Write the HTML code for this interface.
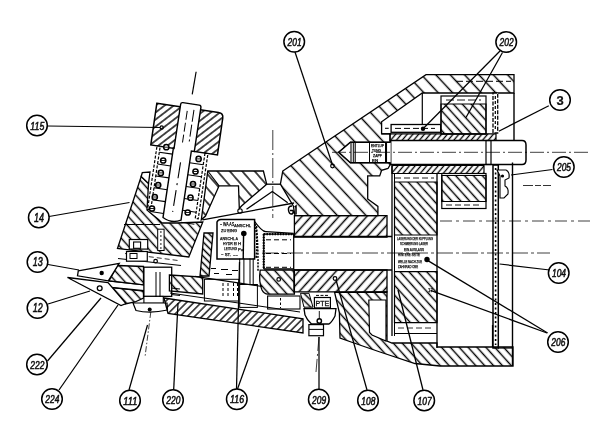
<!DOCTYPE html><html><head><meta charset="utf-8"><style>html,body{margin:0;padding:0;background:#fff;width:600px;height:433px;overflow:hidden}svg{display:block}text{font-family:"Liberation Sans",sans-serif;font-style:italic;font-weight:normal;fill:#111;stroke:#111;stroke-width:0.35}</style></head><body><svg width="600" height="433" viewBox="0 0 600 433"><defs><pattern id="hL" width="40" height="10.5" patternUnits="userSpaceOnUse" patternTransform="rotate(47)"><line x1="0" y1="5.25" x2="40" y2="5.25" stroke="#000" stroke-width="1.6"/></pattern><pattern id="hT" width="40" height="9.8" patternUnits="userSpaceOnUse" patternTransform="rotate(48)"><line x1="0" y1="4.9" x2="40" y2="4.9" stroke="#000" stroke-width="1.55"/></pattern><pattern id="hB" width="40" height="6.9" patternUnits="userSpaceOnUse" patternTransform="rotate(-48)"><line x1="0" y1="3.45" x2="40" y2="3.45" stroke="#000" stroke-width="1.55"/></pattern><pattern id="hS" width="40" height="5.2" patternUnits="userSpaceOnUse" patternTransform="rotate(-45)"><line x1="0" y1="2.6" x2="40" y2="2.6" stroke="#000" stroke-width="1.4"/></pattern><pattern id="hS2" width="40" height="5.6" patternUnits="userSpaceOnUse" patternTransform="rotate(-46)"><line x1="0" y1="2.8" x2="40" y2="2.8" stroke="#000" stroke-width="1.5"/></pattern><pattern id="hSb" width="40" height="5.0" patternUnits="userSpaceOnUse" patternTransform="rotate(45)"><line x1="0" y1="2.5" x2="40" y2="2.5" stroke="#000" stroke-width="1.4"/></pattern><pattern id="hMb" width="40" height="6.6" patternUnits="userSpaceOnUse" patternTransform="rotate(48)"><line x1="0" y1="3.3" x2="40" y2="3.3" stroke="#000" stroke-width="1.5"/></pattern><pattern id="hC" width="40" height="9.4" patternUnits="userSpaceOnUse" patternTransform="rotate(49)"><line x1="0" y1="4.7" x2="40" y2="4.7" stroke="#000" stroke-width="1.5"/></pattern><pattern id="hD" width="40" height="4.4" patternUnits="userSpaceOnUse" patternTransform="rotate(-50)"><line x1="0" y1="2.2" x2="40" y2="2.2" stroke="#000" stroke-width="1.45"/></pattern><filter id="bl"><feGaussianBlur stdDeviation="0.35"/></filter></defs><rect width="600" height="433" fill="#fff"/><g filter="url(#bl)"><polygon points="282.8,171 426,74.6 514,74.6 514,93 422.3,93 381.6,121.8 381.6,133.8 390,133.8 390,142.3 350.4,142.3 338.8,152.2 350.4,162.7 390,162.7 390,165 388,168.5 381.6,170.3 379.7,175.9 367.7,175.9 367.7,199 377.9,206.4 377.9,215.6 295,215.6 293.3,206 280.4,184.2" fill="url(#hL)" stroke="#000" stroke-width="1.3" />
<line x1="456" y1="81.3" x2="511" y2="81.3" stroke="#000" stroke-width="1.0" stroke-dasharray="7 3"/>
<polyline points="514,93 514,140.5" fill="none" stroke="#000" stroke-width="1.4" />
<rect x="493" y="93" width="4.7" height="40" fill="#fff" stroke="#000" stroke-width="1.3" stroke-dasharray="4 1.5"/>
<line x1="495.3" y1="96" x2="495.3" y2="130" stroke="#000" stroke-width="1.2" stroke-dasharray="3 2"/>
<line x1="422.3" y1="93" x2="422.3" y2="124.5" stroke="#000" stroke-width="1.2" />
<rect x="391.1" y="124.5" width="49.6" height="7.8" fill="#fff" stroke="#000" stroke-width="1.3"/>
<line x1="395" y1="128.4" x2="435" y2="128.4" stroke="#000" stroke-width="1.0" stroke-dasharray="6 3"/>
<line x1="385" y1="128.3" x2="388.7" y2="128.3" stroke="#000" stroke-width="1.1" />
<line x1="381.6" y1="133.8" x2="391.1" y2="133.8" stroke="#000" stroke-width="1.3" />
<circle cx="423" cy="128.8" r="2.2" fill="#000"/>
<rect x="441" y="96" width="45" height="38" fill="#fff" stroke="#000" stroke-width="1.2"/>
<polygon points="441,104 486,104 486,134 441,134" fill="url(#hMb)" stroke="#000" stroke-width="1.2" />
<line x1="446" y1="100" x2="481" y2="100" stroke="#000" stroke-width="0.9" stroke-dasharray="8 3"/>
<polygon points="390,133.8 496,133.8 496,140.5 390,140.5" fill="url(#hD)" stroke="#000" stroke-width="1.2" />
<path d="M390.7,140.5 L522,140.5 Q526,140.5 526,145 L526,160 Q526,164.5 522,164.5 L390.7,164.5 Z" fill="#fff" stroke="#000" stroke-width="1.5"/>
<path d="M390.7,142.3 L350.4,142.3 L338.75,152.2 L350.4,162.7 L390.7,162.7" fill="#fff" stroke="#000" stroke-width="1.5"/>
<line x1="351" y1="142.3" x2="351" y2="162.7" stroke="#000" stroke-width="1.1" />
<line x1="353.3" y1="142.3" x2="353.3" y2="162.7" stroke="#000" stroke-width="1.0" />
<line x1="355.2" y1="142.3" x2="355.2" y2="162.7" stroke="#000" stroke-width="1.1" />
<line x1="386.5" y1="142.3" x2="386.5" y2="162.7" stroke="#000" stroke-width="1.1" />
<rect x="369.5" y="142.5" width="16" height="20" fill="none" stroke="#000" stroke-width="1"/>
<text x="371" y="147" font-size="3.6" style="font-style:normal;stroke-width:0.25" textLength="13" lengthAdjust="spacingAndGlyphs" >ENTLUF</text>
<text x="372" y="152" font-size="3.6" style="font-style:normal;stroke-width:0.25" textLength="9" lengthAdjust="spacingAndGlyphs" >TUNG</text>
<text x="373" y="157" font-size="3.6" style="font-style:normal;stroke-width:0.25" textLength="9" lengthAdjust="spacingAndGlyphs" >ZAPF</text>
<text x="372" y="161.5" font-size="3.6" style="font-style:normal;stroke-width:0.25" textLength="6" lengthAdjust="spacingAndGlyphs" >EN</text>
<rect x="486" y="140.5" width="5" height="24" fill="none" stroke="#000" stroke-width="1.2"/>
<polygon points="392,165.5 484,165.5 484,173.5 392,173.5" fill="url(#hD)" stroke="#000" stroke-width="1.2" />
<rect x="441.8" y="173.5" width="44.2" height="35" fill="#fff" stroke="#000" stroke-width="1.2"/>
<polygon points="441.8,175.5 486,175.5 486,201.5 441.8,201.5" fill="url(#hMb)" stroke="#000" stroke-width="1.2" />
<line x1="446" y1="205" x2="482" y2="205" stroke="#000" stroke-width="0.9" stroke-dasharray="6 3"/>
<line x1="392" y1="165.5" x2="392" y2="336" stroke="#000" stroke-width="1.3" />
<line x1="394.5" y1="173.5" x2="394.5" y2="336" stroke="#000" stroke-width="1.0" />
<line x1="437" y1="173.5" x2="437" y2="348" stroke="#000" stroke-width="1.3" />
<line x1="395" y1="178" x2="434" y2="178" stroke="#000" stroke-width="0.9" stroke-dasharray="6 3"/>
<polygon points="394.5,182 437,182 437,235 394.5,235" fill="url(#hMb)" stroke="#000" stroke-width="1.2" />
<polygon points="394.5,271.6 437,271.6 437,322.6 394.5,322.6" fill="url(#hMb)" stroke="#000" stroke-width="1.2" />
<text x="397" y="240" font-size="3.8" style="font-style:normal;stroke-width:0.25" textLength="36" lengthAdjust="spacingAndGlyphs" >LAGERUNG DER KUPPLUNG</text>
<text x="400" y="245" font-size="3.8" style="font-style:normal;stroke-width:0.25" textLength="28" lengthAdjust="spacingAndGlyphs" >SCHMIERUNG LAGER</text>
<text x="404" y="251" font-size="3.8" style="font-style:normal;stroke-width:0.25" textLength="20" lengthAdjust="spacingAndGlyphs" >EIN AUSLASS</text>
<text x="398" y="256" font-size="3.8" style="font-style:normal;stroke-width:0.25" textLength="22" lengthAdjust="spacingAndGlyphs" >HINTERE SEITE</text>
<text x="398" y="263" font-size="3.8" style="font-style:normal;stroke-width:0.25" textLength="24" lengthAdjust="spacingAndGlyphs" >WELLE NACH ZUE</text>
<text x="398" y="268" font-size="3.8" style="font-style:normal;stroke-width:0.25" textLength="20" lengthAdjust="spacingAndGlyphs" >ZAHNRAD OBE</text>
<circle cx="427" cy="259.5" r="2.7" fill="#000"/>
<line x1="394.5" y1="333.5" x2="437" y2="333.5" stroke="#000" stroke-width="1.0" />
<line x1="398" y1="328" x2="432" y2="328" stroke="#000" stroke-width="0.8" stroke-dasharray="6 3"/>
<rect x="493" y="165" width="5.3" height="183" fill="none" stroke="#000" stroke-width="1.5"/>
<line x1="495.6" y1="168" x2="495.6" y2="345" stroke="#000" stroke-width="1.6" stroke-dasharray="2 2.5"/>
<line x1="512.5" y1="162.5" x2="512.5" y2="366" stroke="#000" stroke-width="1.4" />
<line x1="498" y1="348" x2="512.5" y2="348" stroke="#000" stroke-width="1.2" />
<path d="M497,170 L506,170 Q510,172 509,178 L505,180 L505,186 Q509,188 508,194 L504,198 L500,198 L500,176 Z" fill="#fff" stroke="#000" stroke-width="1.1"/>
<circle cx="502.5" cy="176" r="1.6" fill="#000"/>
<polygon points="294.4,215.6 387,215.6 387,237 294.4,237" fill="url(#hB)" stroke="#000" stroke-width="1.3" />
<polygon points="294,270 387,270 387,291.8 294,291.8" fill="url(#hB)" stroke="#000" stroke-width="1.3" />
<path d="M294.4,270.2 L260.2,270.2 Q258.5,282 262,290 Q264,294 268,294.2 L294.4,294.2 Z" fill="url(#hMb)" stroke="#000" stroke-width="1.3"/>
<circle cx="278.7" cy="279.4" r="1.8" fill="none" stroke="#000" stroke-width="1.2"/>
<circle cx="335" cy="278.5" r="1.8" fill="none" stroke="#000" stroke-width="1.2"/>
<path d="M294,236.5 L392,236.5 M294,270 L392,270" fill="none" stroke="#000" stroke-width="1.3"/>
<path d="M263.75,269 L263.75,234.1 L293.7,234.1 M293.7,234.1 L293.7,269 L263.75,269" fill="none" stroke="#000" stroke-width="1.3"/>
<path d="M263.75,234.1 L293.7,234.1 M263.75,234.1 L263.75,269" fill="none" stroke="#000" stroke-width="2.2" stroke-dasharray="1.5 1.2"/>
<path d="M256.5,226 Q258,245 258,262 L258,272" fill="none" stroke="#000" stroke-width="1.5" stroke-dasharray="2 1.3"/>
<line x1="266" y1="239.8" x2="291" y2="239.8" stroke="#000" stroke-width="1.0" stroke-dasharray="5 3"/>
<line x1="266" y1="253.5" x2="291" y2="253.5" stroke="#000" stroke-width="1.0" stroke-dasharray="5 3"/>
<line x1="266" y1="267.3" x2="291" y2="267.3" stroke="#000" stroke-width="1.0" stroke-dasharray="5 3"/>
<path d="M253.2,219.6 Q262,232 266,231.7 L293.7,233.3" fill="none" stroke="#000" stroke-width="1.2"/>
<rect x="267.6" y="296" width="32.4" height="13" fill="none" stroke="#000" stroke-width="1.1"/>
<line x1="280.5" y1="298" x2="280.5" y2="308" stroke="#000" stroke-width="1.0" stroke-dasharray="2.5 2"/>
<polygon points="334.6,292.3 387,292 387,341 392,343 437,343 437,347 513,347 513,366 440,366 415,363.5 380,352 352.5,342.5 340,338 339.4,312.8" fill="url(#hMb)" stroke="#000" stroke-width="1.3" />
<polygon points="368.8,300 386,300 386,341 372,335 369.5,332.5" fill="#fff" stroke="#000" stroke-width="1.2" />
<line x1="492.5" y1="325" x2="492.5" y2="347" stroke="#000" stroke-width="1.2" />
<text x="428" y="291.5" font-size="5" style="font-style:normal;stroke-width:0.25" textLength="5" lengthAdjust="spacingAndGlyphs" >17</text>
<polygon points="207.8,171 263.4,171 266.7,184.2 241.5,206 239.3,208.5 238.5,185.8 219.1,185.8 205.5,216 201.3,219.8" fill="url(#hC)" stroke="#000" stroke-width="1.3" />
<line x1="207.8" y1="171" x2="219.1" y2="185.8" stroke="#000" stroke-width="1.1" />
<line x1="266.7" y1="184.2" x2="280.4" y2="184.2" stroke="#000" stroke-width="1.3" />
<polyline points="246.5,209.3 272.3,191.5 287.7,202.8" fill="none" stroke="#000" stroke-width="1.3" />
<line x1="202.5" y1="219.8" x2="294" y2="203" stroke="#000" stroke-width="1.3" />
<circle cx="240" cy="211" r="2.2" fill="none" stroke="#000" stroke-width="1.1"/>
<path d="M292,206 Q288,206 288.5,210 Q289,214.5 292,214 Q294,213 293,210.5 L290,210.5" fill="none" stroke="#000" stroke-width="1.5"/>
<path d="M294.5,207 L296,206 L296,214.5" fill="none" stroke="#000" stroke-width="1.5"/>
<path d="M217,259 L217,222 Q218,219.5 221,219.5 L254.6,219.5 L254.6,259 Z" fill="#fff" stroke="#000" stroke-width="1.5"/>
<text x="220" y="226" font-size="4.5" style="font-style:normal;stroke-width:0.25" textLength="14" lengthAdjust="spacingAndGlyphs" >~ WA AS</text>
<text x="234" y="226.5" font-size="4.2" style="font-style:normal;stroke-width:0.25" textLength="17" lengthAdjust="spacingAndGlyphs" >ANSCHL</text>
<text x="221" y="231.5" font-size="4.2" style="font-style:normal;stroke-width:0.25" textLength="16" lengthAdjust="spacingAndGlyphs" >ZU EING</text>
<text x="220" y="240" font-size="4.2" style="font-style:normal;stroke-width:0.25" textLength="18" lengthAdjust="spacingAndGlyphs" >ANSCHL A</text>
<text x="223" y="245" font-size="4.2" style="font-style:normal;stroke-width:0.25" textLength="14" lengthAdjust="spacingAndGlyphs" >HYDR EI</text>
<text x="238" y="245" font-size="4.2" style="font-style:normal;stroke-width:0.25" >H</text>
<text x="224" y="250" font-size="4.2" style="font-style:normal;stroke-width:0.25" textLength="13" lengthAdjust="spacingAndGlyphs" >LEITUNG</text>
<text x="238" y="250.5" font-size="4.2" style="font-style:normal;stroke-width:0.25" >Pu</text>
<text x="221" y="256" font-size="4.2" style="font-style:normal;stroke-width:0.25" textLength="10" lengthAdjust="spacingAndGlyphs" >~ ST.</text>
<text x="233" y="256.5" font-size="4.2" style="font-style:normal;stroke-width:0.25" >~~</text>
<circle cx="243.8" cy="233.5" r="2.8" fill="#000"/>
<line x1="243.6" y1="233.5" x2="243.2" y2="259" stroke="#000" stroke-width="1.4" />
<path d="M255,224 Q258,240 256,259" fill="none" stroke="#000" stroke-width="1.6" stroke-dasharray="2 1.2"/>
<polygon points="141.2,176.5 148.5,183.5 147,210 150.5,213 158.5,219.5 162,223 177,223 202.8,222 188.8,257 123,249.1 117.5,248.5" fill="url(#hMb)" stroke="#000" stroke-width="1.3" />
<polygon points="141.2,176.5 142.3,172.5 150,172 148.5,183.5" fill="#fff" stroke="#000" stroke-width="1.3" />
<line x1="124" y1="224.5" x2="160" y2="224.5" stroke="#000" stroke-width="1.1" />
<rect x="129.3" y="239.5" width="18.4" height="9.6" fill="#fff" stroke="#000" stroke-width="1.2"/>
<rect x="133.6" y="242" width="7" height="6.3" fill="none" stroke="#000" stroke-width="1.1"/>
<rect x="157.7" y="229.2" width="6.4" height="21.3" fill="#fff" stroke="#000" stroke-width="1.0"/>
<line x1="160.9" y1="231" x2="160.9" y2="249" stroke="#000" stroke-width="0.9" stroke-dasharray="2 2"/>
<line x1="118" y1="258.5" x2="181" y2="265.5" stroke="#000" stroke-width="1.1" />
<line x1="125" y1="253.5" x2="178" y2="260.5" stroke="#000" stroke-width="0.8" stroke-dasharray="5 3"/>
<polygon points="117.5,265.5 143.5,266.5 143.5,284.8 109,281" fill="url(#hMb)" stroke="#000" stroke-width="1.3" />
<polygon points="111,287.5 143.5,290.5 143.5,298 135,302 125,304" fill="url(#hMb)" stroke="#000" stroke-width="1.3" />
<line x1="109" y1="281" x2="180" y2="289" stroke="#000" stroke-width="1.2" />
<line x1="111" y1="287.5" x2="180" y2="295.5" stroke="#000" stroke-width="1.2" />
<rect x="126.5" y="251.5" width="20.8" height="9.7" fill="#fff" stroke="#000" stroke-width="1.2"/>
<rect x="130" y="253.5" width="7" height="5" fill="none" stroke="#000" stroke-width="1.0"/>
<circle cx="155.6" cy="261.2" r="1.8" fill="none" stroke="#000" stroke-width="1.2"/>
<rect x="143.9" y="267.2" width="27.8" height="29.2" fill="#fff" stroke="#000" stroke-width="1.3"/>
<rect x="143.9" y="296.4" width="19.4" height="6.9" fill="#fff" stroke="#000" stroke-width="1.1"/>
<line x1="156" y1="272" x2="156" y2="297" stroke="#000" stroke-width="1.0" />
<line x1="160" y1="272" x2="160" y2="297" stroke="#000" stroke-width="1.0" />
<polygon points="169.4,275 202.7,277 202.7,294 169.4,291" fill="url(#hMb)" stroke="#000" stroke-width="1.3" />
<polygon points="204,233 213,233 209,276 200,276" fill="url(#hSb)" stroke="#000" stroke-width="1.3" />
<path d="M133,303 L167,303 L167.5,310 Q150,314 136,310.5 Z" fill="#fff" stroke="#000" stroke-width="1.2"/>
<circle cx="149.7" cy="309.5" r="2" fill="#000"/>
<line x1="239.7" y1="258.5" x2="239.7" y2="284.5" stroke="#000" stroke-width="1.0" />
<line x1="243.9" y1="258.5" x2="243.9" y2="284.5" stroke="#000" stroke-width="1.0" />
<line x1="250" y1="258.5" x2="250" y2="284.5" stroke="#000" stroke-width="1.0" />
<line x1="253.2" y1="258.5" x2="253.2" y2="284.5" stroke="#000" stroke-width="1.0" />
<rect x="204.4" y="279.3" width="34.3" height="21.7" fill="none" stroke="#000" stroke-width="1.0"/>
<line x1="223" y1="283" x2="223" y2="296" stroke="#000" stroke-width="1.0" stroke-dasharray="3 2"/>
<line x1="228" y1="283" x2="228" y2="296" stroke="#000" stroke-width="1.0" stroke-dasharray="3 2"/>
<line x1="233.5" y1="283" x2="233.5" y2="296" stroke="#000" stroke-width="1.0" stroke-dasharray="3 2"/>
<line x1="237.5" y1="283" x2="237.5" y2="296" stroke="#000" stroke-width="1.0" stroke-dasharray="3 2"/>
<rect x="239.7" y="284.5" width="17.7" height="22.9" fill="none" stroke="#000" stroke-width="1.0"/>
<line x1="195" y1="276.3" x2="262" y2="286.5" stroke="#000" stroke-width="1.2" />
<line x1="211" y1="268.5" x2="216" y2="268.5" stroke="#000" stroke-width="1.0" />
<line x1="221" y1="269.5" x2="228" y2="269.5" stroke="#000" stroke-width="1.0" />
<line x1="232" y1="270.5" x2="238" y2="270.5" stroke="#000" stroke-width="1.0" />
<line x1="214" y1="273.5" x2="219" y2="273.5" stroke="#000" stroke-width="1.0" />
<line x1="226" y1="274.5" x2="232" y2="274.5" stroke="#000" stroke-width="1.0" />
<g transform="translate(183.8,150.8) rotate(8.5)">
<path d="M-33.7,-43 L28.7,-43 Q33.7,-43 33.7,-38 L33.9,-0.9 L-33.5,-0.9 Z" fill="url(#hS2)" stroke="#000" stroke-width="1.5"/>
<rect x="-27.2" y="-0.9" width="3.2" height="64" fill="#fff" stroke="#000" stroke-width="1.2" stroke-dasharray="3 1.5"/>
<rect x="21.3" y="-0.9" width="3.0" height="66" fill="#fff" stroke="#000" stroke-width="1.2" stroke-dasharray="3 1.5"/>
<path d="M-10.7,69 L-10.7,-0.9 L-10,-0.9 L-10,-45.5 Q-10,-47.5 -8,-47.5 L8.5,-47.5 Q10.5,-47.5 10.5,-45.5 L10.5,-0.9 L7.5,-0.9 L7.5,69 Q-1.5,74 -10.7,69 Z" fill="#fff" stroke="#000" stroke-width="1.4"/>
<line x1="-2.5" y1="-40" x2="-2.5" y2="-8" stroke="#000" stroke-width="1" stroke-dasharray="9 3"/>
<line x1="4" y1="-42" x2="4" y2="-10" stroke="#000" stroke-width="1" stroke-dasharray="12 3"/>
<line x1="-1.5" y1="12" x2="-2" y2="62" stroke="#000" stroke-width="1.1" stroke-dasharray="16 5 2 5"/>
<line x1="0.5" y1="-80" x2="0" y2="-57" stroke="#000" stroke-width="1.2"/>
<line x1="-24" y1="5.0" x2="-10.7" y2="5.0" stroke="#000" stroke-width="1.1"/>
<line x1="7.5" y1="11.0" x2="21.3" y2="11.0" stroke="#000" stroke-width="1.0"/>
<line x1="-24" y1="17.0" x2="-10.7" y2="17.0" stroke="#000" stroke-width="1.1"/>
<line x1="7.5" y1="23.0" x2="21.3" y2="23.0" stroke="#000" stroke-width="1.0"/>
<line x1="-24" y1="29.0" x2="-10.7" y2="29.0" stroke="#000" stroke-width="1.1"/>
<line x1="7.5" y1="35.0" x2="21.3" y2="35.0" stroke="#000" stroke-width="1.0"/>
<line x1="-24" y1="41.0" x2="-10.7" y2="41.0" stroke="#000" stroke-width="1.1"/>
<line x1="7.5" y1="47.0" x2="21.3" y2="47.0" stroke="#000" stroke-width="1.0"/>
<line x1="-24" y1="53.0" x2="-10.7" y2="53.0" stroke="#000" stroke-width="1.1"/>
<line x1="7.5" y1="59.0" x2="21.3" y2="59.0" stroke="#000" stroke-width="1.0"/>
<line x1="-24" y1="65.0" x2="-10.7" y2="65.0" stroke="#000" stroke-width="1.1"/>
<line x1="7.5" y1="71.0" x2="21.3" y2="71.0" stroke="#000" stroke-width="1.0"/>
</g>
<circle cx="166.3" cy="147.2" r="2.6" fill="#fff" stroke="#000" stroke-width="1.5"/>
<line x1="164.1" y1="147.2" x2="168.5" y2="147.2" stroke="#000" stroke-width="0.9" />
<circle cx="163.2" cy="160.5" r="2.6" fill="#fff" stroke="#000" stroke-width="1.5"/>
<line x1="161" y1="160.5" x2="165.4" y2="160.5" stroke="#000" stroke-width="0.9" />
<circle cx="160.8" cy="172.9" r="2.6" fill="#fff" stroke="#000" stroke-width="1.5"/>
<line x1="158.6" y1="172.9" x2="163" y2="172.9" stroke="#000" stroke-width="0.9" />
<circle cx="158.2" cy="185" r="2.6" fill="#fff" stroke="#000" stroke-width="1.5"/>
<line x1="156" y1="185" x2="160.4" y2="185" stroke="#000" stroke-width="0.9" />
<circle cx="154.8" cy="197" r="2.6" fill="#fff" stroke="#000" stroke-width="1.5"/>
<line x1="152.6" y1="197" x2="157" y2="197" stroke="#000" stroke-width="0.9" />
<circle cx="152" cy="208.5" r="2.6" fill="#fff" stroke="#000" stroke-width="1.5"/>
<line x1="149.8" y1="208.5" x2="154.2" y2="208.5" stroke="#000" stroke-width="0.9" />
<circle cx="198.6" cy="158.9" r="2.6" fill="#fff" stroke="#000" stroke-width="1.5"/>
<line x1="196.4" y1="158.9" x2="200.8" y2="158.9" stroke="#000" stroke-width="0.9" />
<circle cx="195.5" cy="171.5" r="2.6" fill="#fff" stroke="#000" stroke-width="1.5"/>
<line x1="193.3" y1="171.5" x2="197.7" y2="171.5" stroke="#000" stroke-width="0.9" />
<circle cx="193" cy="184" r="2.6" fill="#fff" stroke="#000" stroke-width="1.5"/>
<line x1="190.8" y1="184" x2="195.2" y2="184" stroke="#000" stroke-width="0.9" />
<circle cx="190.5" cy="197.7" r="2.6" fill="#fff" stroke="#000" stroke-width="1.5"/>
<line x1="188.3" y1="197.7" x2="192.7" y2="197.7" stroke="#000" stroke-width="0.9" />
<circle cx="187.7" cy="212.5" r="2.6" fill="#fff" stroke="#000" stroke-width="1.5"/>
<line x1="185.5" y1="212.5" x2="189.9" y2="212.5" stroke="#000" stroke-width="0.9" />
<polygon points="164,298 303,318.8 303,333 168,313.3" fill="url(#hS)" stroke="#000" stroke-width="1.3" />
<line x1="170" y1="293" x2="300" y2="312" stroke="#000" stroke-width="1.0" />
<polygon points="78.3,270.8 119.2,263.3 108.3,280.8 77.5,275.8" fill="#fff" stroke="#000" stroke-width="1.3" />
<circle cx="101.7" cy="273" r="2.2" fill="#000"/>
<polygon points="67.5,277.5 108,282.5 126,303.5 121,305.5" fill="#fff" stroke="#000" stroke-width="1.3" />
<circle cx="99.7" cy="288.3" r="2.4" fill="none" stroke="#000" stroke-width="1.3"/>
<polygon points="300.5,293.3 309,293.3 313,307.2 304,307.2" fill="url(#hSb)" stroke="#000" stroke-width="1.0" />
<rect x="314.4" y="297.5" width="16" height="10.4" fill="#fff" stroke="#000" stroke-width="1.2"/>
<line x1="316" y1="295.4" x2="329" y2="295.4" stroke="#000" stroke-width="1.0" stroke-dasharray="3 1.5"/>
<text x="322.4" y="305.5" text-anchor="middle" font-size="7" style="font-style:normal;stroke-width:0.3">PTE</text>
<path d="M304,308.6 L336,308.6 L335,316 Q332,322 329,324 L311.5,324 Q307,320 305,315 Z" fill="#fff" stroke="#000" stroke-width="1.3"/>
<rect x="308.9" y="324.6" width="14.6" height="11.1" fill="#fff" stroke="#000" stroke-width="1.2"/>
<line x1="309" y1="329.4" x2="323.5" y2="329.4" stroke="#000" stroke-width="1.0" />
<circle cx="319.3" cy="321" r="2.2" fill="none" stroke="#000" stroke-width="1.4"/>
<line x1="319.3" y1="311" x2="319.3" y2="319" stroke="#000" stroke-width="0.9" />
<line x1="332" y1="152.3" x2="588" y2="152.3" stroke="#000" stroke-width="0.75" stroke-dasharray="14 3 2 3"/>
<line x1="262" y1="253" x2="550" y2="253" stroke="#000" stroke-width="0.75" stroke-dasharray="16 3 3 3"/>
<line x1="440" y1="221" x2="590" y2="221" stroke="#000" stroke-width="0.75" stroke-dasharray="12 4 3 4"/>
<line x1="523" y1="185.5" x2="533" y2="185.5" stroke="#000" stroke-width="0.8" />
<line x1="535" y1="185.5" x2="541" y2="185.5" stroke="#000" stroke-width="0.8" />
<line x1="543" y1="185.5" x2="551" y2="185.5" stroke="#000" stroke-width="0.8" />
<line x1="272.8" y1="130" x2="272.8" y2="218" stroke="#000" stroke-width="0.75" stroke-dasharray="20 3 2 3"/>
<line x1="319" y1="337" x2="316" y2="372" stroke="#000" stroke-width="0.75" stroke-dasharray="14 3 2 3"/>
<line x1="47.5" y1="126" x2="160" y2="127.5" stroke="#000" stroke-width="1.25" />
<circle cx="37" cy="125.5" r="10.3" fill="#fff" stroke="#000" stroke-width="1.5"/>
<text x="37.3" y="129.5" text-anchor="middle" font-size="11" textLength="14" lengthAdjust="spacingAndGlyphs" style="stroke-width:0.55">115</text>
<circle cx="161.7" cy="127.5" r="1.6" fill="none" stroke="#000" stroke-width="1.2"/>
<line x1="49" y1="216.5" x2="129.5" y2="202.5" stroke="#000" stroke-width="1.25" />
<circle cx="38.8" cy="217.5" r="10.3" fill="#fff" stroke="#000" stroke-width="1.5"/>
<text x="39" y="221.5" text-anchor="middle" font-size="12" textLength="10" lengthAdjust="spacingAndGlyphs" style="stroke-width:0.55">14</text>
<line x1="48" y1="264.5" x2="79" y2="270" stroke="#000" stroke-width="1.25" />
<circle cx="37.5" cy="262" r="10.3" fill="#fff" stroke="#000" stroke-width="1.5"/>
<text x="37.8" y="266" text-anchor="middle" font-size="12" textLength="10" lengthAdjust="spacingAndGlyphs" style="stroke-width:0.55">13</text>
<line x1="48" y1="304" x2="90" y2="291" stroke="#000" stroke-width="1.25" />
<circle cx="37.5" cy="308" r="10.3" fill="#fff" stroke="#000" stroke-width="1.5"/>
<text x="37.8" y="312" text-anchor="middle" font-size="12" textLength="10" lengthAdjust="spacingAndGlyphs" style="stroke-width:0.55">12</text>
<line x1="47.5" y1="361" x2="101" y2="298" stroke="#000" stroke-width="1.25" />
<circle cx="37" cy="364.5" r="10.3" fill="#fff" stroke="#000" stroke-width="1.5"/>
<text x="37.3" y="368.5" text-anchor="middle" font-size="11" textLength="14" lengthAdjust="spacingAndGlyphs" style="stroke-width:0.55">222</text>
<line x1="59" y1="390" x2="118" y2="305" stroke="#000" stroke-width="1.25" />
<circle cx="52" cy="399" r="10.3" fill="#fff" stroke="#000" stroke-width="1.5"/>
<text x="52.3" y="403" text-anchor="middle" font-size="11" textLength="14" lengthAdjust="spacingAndGlyphs" style="stroke-width:0.55">224</text>
<line x1="129" y1="390" x2="147.5" y2="325" stroke="#000" stroke-width="1.25" />
<circle cx="130" cy="400.5" r="10.3" fill="#fff" stroke="#000" stroke-width="1.5"/>
<text x="130.3" y="404.5" text-anchor="middle" font-size="11" textLength="14" lengthAdjust="spacingAndGlyphs" style="stroke-width:0.55">111</text>
<line x1="150.8" y1="312" x2="145" y2="357" stroke="#000" stroke-width="0.75" stroke-dasharray="6 2 1.5 2"/>
<line x1="173.7" y1="389.5" x2="178" y2="303" stroke="#000" stroke-width="1.25" />
<circle cx="173" cy="400" r="10.3" fill="#fff" stroke="#000" stroke-width="1.5"/>
<text x="173.3" y="404" text-anchor="middle" font-size="11" textLength="14" lengthAdjust="spacingAndGlyphs" style="stroke-width:0.55">220</text>
<line x1="236.5" y1="389" x2="239.5" y2="262" stroke="#000" stroke-width="1.25" />
<line x1="237.5" y1="389" x2="259" y2="329" stroke="#000" stroke-width="1.25" />
<circle cx="236.8" cy="399.2" r="10.3" fill="#fff" stroke="#000" stroke-width="1.5"/>
<text x="237.1" y="403.2" text-anchor="middle" font-size="11" textLength="14" lengthAdjust="spacingAndGlyphs" style="stroke-width:0.55">116</text>
<line x1="319" y1="389" x2="319" y2="337" stroke="#000" stroke-width="1.25" />
<circle cx="318.8" cy="399.5" r="10.3" fill="#fff" stroke="#000" stroke-width="1.5"/>
<text x="319.1" y="403.5" text-anchor="middle" font-size="11" textLength="14" lengthAdjust="spacingAndGlyphs" style="stroke-width:0.55">209</text>
<line x1="367" y1="390" x2="336" y2="280" stroke="#000" stroke-width="1.25" />
<circle cx="368" cy="400.5" r="10.3" fill="#fff" stroke="#000" stroke-width="1.5"/>
<text x="368.3" y="404.5" text-anchor="middle" font-size="11" textLength="14" lengthAdjust="spacingAndGlyphs" style="stroke-width:0.55">108</text>
<line x1="423" y1="390" x2="398" y2="290" stroke="#000" stroke-width="1.25" />
<circle cx="424.2" cy="400.5" r="10.3" fill="#fff" stroke="#000" stroke-width="1.5"/>
<text x="424.6" y="404.5" text-anchor="middle" font-size="11" textLength="14" lengthAdjust="spacingAndGlyphs" style="stroke-width:0.55">107</text>
<line x1="547.6" y1="333" x2="427.5" y2="260.4" stroke="#000" stroke-width="1.25" />
<line x1="547" y1="333" x2="430.5" y2="290.4" stroke="#000" stroke-width="1.25" />
<circle cx="558" cy="342" r="10.3" fill="#fff" stroke="#000" stroke-width="1.5"/>
<text x="558.3" y="346" text-anchor="middle" font-size="11" textLength="14" lengthAdjust="spacingAndGlyphs" style="stroke-width:0.55">206</text>
<line x1="549.7" y1="270" x2="499.6" y2="264" stroke="#000" stroke-width="1.25" />
<circle cx="558.7" cy="273" r="10.3" fill="#fff" stroke="#000" stroke-width="1.5"/>
<text x="559" y="277" text-anchor="middle" font-size="11" textLength="14" lengthAdjust="spacingAndGlyphs" style="stroke-width:0.55">104</text>
<line x1="552.5" y1="169.5" x2="511" y2="175" stroke="#000" stroke-width="1.25" />
<circle cx="563.8" cy="167" r="10.3" fill="#fff" stroke="#000" stroke-width="1.5"/>
<text x="564" y="171" text-anchor="middle" font-size="11" textLength="14" lengthAdjust="spacingAndGlyphs" style="stroke-width:0.55">205</text>
<line x1="548.8" y1="105.8" x2="498.8" y2="131.2" stroke="#000" stroke-width="1.25" />
<circle cx="560" cy="100" r="10.3" fill="#fff" stroke="#000" stroke-width="1.5"/>
<text x="560" y="104.5" text-anchor="middle" font-size="13" style="font-style:normal;font-weight:bold;stroke-width:0.2">3</text>
<line x1="500" y1="51" x2="423" y2="128.8" stroke="#000" stroke-width="1.25" />
<line x1="502.5" y1="52.5" x2="466" y2="117.5" stroke="#000" stroke-width="1.25" />
<circle cx="506.2" cy="42" r="10.3" fill="#fff" stroke="#000" stroke-width="1.5"/>
<text x="506.6" y="46" text-anchor="middle" font-size="11" textLength="14" lengthAdjust="spacingAndGlyphs" style="stroke-width:0.55">202</text>
<line x1="295" y1="52" x2="332.5" y2="165" stroke="#000" stroke-width="1.25" />
<circle cx="294.2" cy="41.8" r="10.3" fill="#fff" stroke="#000" stroke-width="1.5"/>
<text x="294.6" y="45.8" text-anchor="middle" font-size="11" textLength="14" lengthAdjust="spacingAndGlyphs" style="stroke-width:0.55">201</text>
<circle cx="332.5" cy="166" r="1.8" fill="none" stroke="#000" stroke-width="1.2"/></g></svg></body></html>
